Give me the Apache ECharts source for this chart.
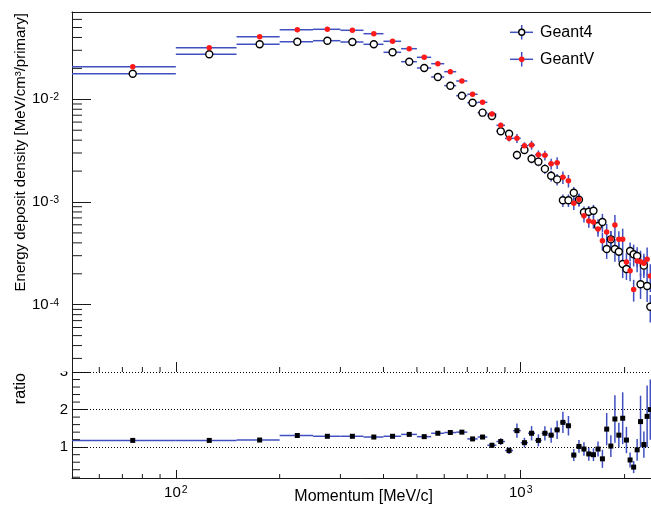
<!DOCTYPE html>
<html lang="en">
<head>
<meta charset="UTF-8">
<title>Energy deposit density</title>
<style>
  html, body { margin: 0; padding: 0; background: #fff; }
  #main { width: 651px; height: 506px; }
</style>
<script src="https://cdn.jsdelivr.net/npm/echarts@6/dist/echarts.min.js"></script>
</head>
<body>
<div id="main"></div>
<script>
// bin centres, MeV/c (bins are 50 MeV/c wide)
var centers = [75, 125, 175, 225, 275, 325, 375, 425, 475, 525, 575, 625, 675, 725, 775, 825,
  875, 925, 975, 1025, 1075, 1125, 1175, 1225, 1275, 1325, 1375, 1425, 1475, 1525, 1575, 1625,
  1675, 1725, 1775, 1825, 1875, 1925, 1975, 2025, 2075, 2125, 2175, 2225, 2275, 2325, 2375];
var binHalfWidth = 25;

// energy deposit density, MeV/cm3/primary
var geant4 = [0.01775, 0.02742, 0.03431, 0.03638, 0.03720, 0.03613, 0.03431, 0.02868, 0.02323, 0.02017,
  0.01649, 0.01357, 0.01084, 0.00927, 0.00741, 0.00688, 0.00488, 0.00462, 0.00287, 0.00321,
  0.00264, 0.00247, 0.00210, 0.00180, 0.00166, 0.00104, 0.00104, 0.00123, 0.00105, 0.000794,
  0.000804, 0.000823, 0.000584, 0.000639, 0.000349, 0.000433, 0.000349, 0.000328, 0.000249, 0.000223,
  0.000333, 0.000310, 0.000298, 0.000158, 0.000240, 0.000152, 0.0000956];
var geantV = [0.02077, 0.03181, 0.04069, 0.04761, 0.04804, 0.04697, 0.04352, 0.03671, 0.03110, 0.02564,
  0.02221, 0.01857, 0.01508, 0.01119, 0.00935, 0.00719, 0.00558, 0.00417, 0.00417, 0.00353,
  0.00359, 0.00289, 0.00285, 0.00236, 0.00241, 0.00174, 0.00161, 0.000971, 0.00106, 0.000735,
  0.000653, 0.000639, 0.000546, 0.000420, 0.000510, 0.000436, 0.000597, 0.000433, 0.000433, 0.000260,
  0.000214, 0.000141, 0.000266, 0.000262, 0.000253, 0.000277, 0.000190];
// relative errors (fraction of value)
var relErr = [0.01, 0.01, 0.01, 0.01, 0.01, 0.01, 0.01, 0.01, 0.01, 0.01,
  0.01, 0.02, 0.02, 0.03, 0.03, 0.05, 0.06, 0.07, 0.10, 0.08,
  0.10, 0.10, 0.11, 0.12, 0.13, 0.14, 0.14, 0.14, 0.14, 0.14,
  0.14, 0.14, 0.16, 0.20, 0.20, 0.20, 0.25, 0.20, 0.27, 0.22,
  0.21, 0.24, 0.22, 0.28, 0.24, 0.30, 0.30];

// GeantV / Geant4
var ratio = [1.18, 1.18, 1.19, 1.31, 1.29, 1.29, 1.27, 1.29, 1.34, 1.28,
  1.37, 1.39, 1.40, 1.22, 1.27, 1.05, 1.15, 0.91, 1.44, 1.12,
  1.37, 1.18, 1.37, 1.32, 1.46, 1.66, 1.57, 0.79, 1.02, 0.95,
  0.82, 0.80, 0.95, 0.69, 1.48, 1.03, 1.75, 1.32, 1.77, 1.19,
  0.66, 0.47, 0.93, 1.68, 1.07, 1.82, 2.00];
var ratioErr = [0.01, 0.01, 0.01, 0.01, 0.01, 0.01, 0.01, 0.015, 0.015, 0.02,
  0.02, 0.025, 0.03, 0.05, 0.05, 0.07, 0.09, 0.09, 0.19, 0.13,
  0.19, 0.16, 0.19, 0.20, 0.24, 0.28, 0.26, 0.16, 0.17, 0.18,
  0.18, 0.17, 0.20, 0.24, 0.43, 0.29, 0.63, 0.33, 0.69, 0.35,
  0.20, 0.16, 0.29, 0.69, 0.35, 0.82, 0.80];

// axis ranges and minor ticks
var xMin = 50, xMax = 2500;
var yTopMin = 2.2117e-5, yTopMax = 0.07079;
var ratioMin = 0.18, ratioMax = 3;
var xMinorTicks = [60, 70, 80, 90, 200, 300, 400, 500, 600, 700, 800, 900, 2000];
var yMinorTicks = [3e-5, 4e-5, 5e-5, 6e-5, 7e-5, 8e-5, 9e-5,
  2e-4, 3e-4, 4e-4, 5e-4, 6e-4, 7e-4, 8e-4, 9e-4,
  2e-3, 3e-3, 4e-3, 5e-3, 6e-3, 7e-3, 8e-3, 9e-3,
  2e-2, 3e-2, 4e-2, 5e-2, 6e-2, 7e-2];
var ratioMinorTicks = [0.2, 0.4, 0.6, 0.8, 1.2, 1.4, 1.6, 1.8, 2.2, 2.4, 2.6, 2.8];

var FONT = "'Liberation Sans', Arial, Helvetica, sans-serif";
var barColor = '#4050c0';
var axisColor = '#1a1a1a';

var chart = echarts.init(document.getElementById('main'), null, {renderer: 'canvas'});

// error bar data: [x, y, xlo, xhi, ylo, yhi]
function errData(vals, errFn) {
  return centers.map(function (c, i) {
    var e = errFn(i);
    return [c, vals[i], c - binHalfWidth, c + binHalfWidth, vals[i] - e, vals[i] + e];
  });
}

function errRender(params, api) {
  var x = api.value(0), y = api.value(1);
  var a = api.coord([api.value(2), y]), b = api.coord([api.value(3), y]);
  var lo = api.coord([x, api.value(4)]), hi = api.coord([x, api.value(5)]);
  var st = {stroke: barColor, lineWidth: 1.5};
  return {type: 'group', children: [
    {type: 'line', shape: {x1: a[0], y1: a[1], x2: b[0], y2: b[1]}, style: st},
    {type: 'line', shape: {x1: lo[0], y1: lo[1], x2: hi[0], y2: hi[1]}, style: st}
  ]};
}

// minor tick helpers (ROOT style 2..9 ticks)
function yTickSeries(xi, yi, vals, len) {
  return {
    type: 'custom', xAxisIndex: xi, yAxisIndex: yi, silent: true, z: 5,
    data: vals.map(function (v) { return [xMin, v]; }),
    renderItem: function (p, api) {
      var c = api.coord([api.value(0), api.value(1)]);
      return {type: 'line', shape: {x1: c[0], y1: c[1], x2: c[0] + len, y2: c[1]},
        style: {stroke: axisColor, lineWidth: 1}};
    }
  };
}
function xTickSeries(xi, yi, yVal, len) {
  return {
    type: 'custom', xAxisIndex: xi, yAxisIndex: yi, silent: true, z: 5,
    data: xMinorTicks.map(function (v) { return [v, yVal]; }),
    renderItem: function (p, api) {
      var c = api.coord([api.value(0), api.value(1)]);
      return {type: 'line', shape: {x1: c[0], y1: c[1], x2: c[0], y2: c[1] - len},
        style: {stroke: axisColor, lineWidth: 1}};
    }
  };
}

function powLabel(v) {
  var l = Math.log10(v), e = Math.round(l);
  if (Math.abs(l - e) > 1e-6) return '';
  return '{b|10}{s|' + e + '}';
}
var powRich = {
  b: {fontSize: 15, fontFamily: FONT, color: '#000', lineHeight: 15, verticalAlign: 'bottom'},
  s: {fontSize: 10.5, fontFamily: FONT, color: '#000', lineHeight: 11, verticalAlign: 'top', padding: [0, 0, 7, 1]}
};

var option = {
  animation: false,
  backgroundColor: '#fff',
  grid: [
    {left: 72, top: 12, width: 586, height: 360, containLabel: false, outerBoundsMode: 'none'},
    {left: 72, top: 372, width: 586, height: 106, containLabel: false, outerBoundsMode: 'none'}
  ],
  xAxis: [
    {type: 'log', gridIndex: 0, min: xMin, max: xMax, position: 'bottom', splitNumber: 2,
      axisLine: {show: false},
      axisTick: {show: true, inside: true, length: 10, lineStyle: {color: axisColor, width: 1}},
      axisLabel: {show: false}, splitLine: {show: false}},
    {type: 'log', gridIndex: 0, min: xMin, max: xMax, position: 'top',
      axisLine: {show: true, lineStyle: {color: axisColor, width: 1}},
      axisTick: {show: false}, axisLabel: {show: false}, splitLine: {show: false}},
    {type: 'log', gridIndex: 1, min: xMin, max: xMax, position: 'bottom', splitNumber: 2,
      axisLine: {show: true, onZero: false, lineStyle: {color: axisColor, width: 1}},
      axisTick: {show: true, inside: true, length: 8, lineStyle: {color: axisColor, width: 1}},
      axisLabel: {show: true, margin: 7, formatter: powLabel, rich: powRich},
      splitLine: {show: false}}
  ],
  yAxis: [
    {type: 'log', gridIndex: 0, min: yTopMin, max: yTopMax, splitNumber: 3,
      axisLine: {show: true, lineStyle: {color: axisColor, width: 1}},
      axisTick: {show: true, inside: true, length: 19, lineStyle: {color: axisColor, width: 1}},
      axisLabel: {show: true, margin: 13, formatter: powLabel, rich: powRich},
      splitLine: {show: false}},
    {type: 'value', gridIndex: 1, min: ratioMin, max: ratioMax, splitNumber: 3,
      axisLine: {show: true, onZero: false, lineStyle: {color: axisColor, width: 1}},
      axisTick: {show: true, inside: true, length: 15, lineStyle: {color: axisColor, width: 1}},
      axisLabel: {show: true, margin: 4, fontSize: 15, fontFamily: FONT, color: '#000',
        formatter: function (v) { return Math.abs(v - Math.round(v)) < 1e-6 ? String(Math.round(v)) : ''; }},
      splitLine: {show: false}}
  ],
  series: [
    {name: 'Geant4 err', type: 'custom', xAxisIndex: 0, yAxisIndex: 0, clip: true, z: 2,
      renderItem: errRender, encode: {x: [0, 2, 3], y: [1, 4, 5]},
      data: errData(geant4, function (i) { return geant4[i] * relErr[i]; })},
    {name: 'GeantV err', type: 'custom', xAxisIndex: 0, yAxisIndex: 0, clip: true, z: 2,
      renderItem: errRender, encode: {x: [0, 2, 3], y: [1, 4, 5]},
      data: errData(geantV, function (i) { return geantV[i] * relErr[i]; })},
    {name: 'Geant4', type: 'scatter', xAxisIndex: 0, yAxisIndex: 0, z: 3,
      symbol: 'circle', symbolSize: 7,
      itemStyle: {color: '#fff', borderColor: '#000', borderWidth: 1.4, opacity: 1},
      data: centers.map(function (c, i) { return [c, geant4[i]]; })},
    {name: 'GeantV', type: 'scatter', xAxisIndex: 0, yAxisIndex: 0, z: 4,
      symbol: 'circle', symbolSize: 5.5,
      itemStyle: {color: '#ff1a1a', opacity: 1},
      data: centers.map(function (c, i) { return [c, geantV[i]]; })},
    yTickSeries(0, 0, yMinorTicks, 10),
    xTickSeries(0, 0, yTopMin, 5),
    {name: 'ratio err', type: 'custom', xAxisIndex: 2, yAxisIndex: 1, clip: true, z: 2,
      renderItem: errRender, encode: {x: [0, 2, 3], y: [1, 4, 5]},
      data: errData(ratio, function (i) { return ratioErr[i]; })},
    {name: 'ratio', type: 'scatter', xAxisIndex: 2, yAxisIndex: 1, z: 4,
      symbol: 'rect', symbolSize: 5,
      itemStyle: {color: '#000', opacity: 1},
      data: centers.map(function (c, i) { return [c, ratio[i]]; }),
      markLine: {silent: true, symbol: ['none', 'none'], label: {show: false},
        lineStyle: {color: '#000', width: 1, type: [1, 2]},
        emphasis: {disabled: true},
        data: [{yAxis: 1}, {yAxis: 2}, {yAxis: 3}]}},
    yTickSeries(2, 1, ratioMinorTicks, 8),
    xTickSeries(2, 1, ratioMin, 4)
  ],
  graphic: [
    // hides the upper half of the "3" label, as the upper pad does
    {type: 'rect', z: 100, shape: {x: 40, y: 355, width: 30, height: 16.5}, style: {fill: '#fff'}},
    {type: 'text', x: 21, y: 13, rotation: Math.PI / 2, z: 100,
      style: {text: 'Energy deposit density [MeV/cm\u00b3/primary]', font: '15px ' + FONT,
        fill: '#000', align: 'right', verticalAlign: 'middle'}},
    {type: 'text', x: 21, y: 373, rotation: Math.PI / 2, z: 100,
      style: {text: 'ratio', font: '16px ' + FONT, fill: '#000', align: 'right', verticalAlign: 'middle'}},
    {type: 'text', x: 433, y: 497, z: 100,
      style: {text: 'Momentum [MeV/c]', font: '16px ' + FONT, fill: '#000', align: 'right', verticalAlign: 'middle'}},
    // legend
    {type: 'group', z: 100, children: [
      {type: 'line', shape: {x1: 510, y1: 32.3, x2: 533, y2: 32.3}, style: {stroke: barColor, lineWidth: 1.5}},
      {type: 'line', shape: {x1: 521.7, y1: 25, x2: 521.7, y2: 39.5}, style: {stroke: barColor, lineWidth: 1.5}},
      {type: 'circle', shape: {cx: 521.7, cy: 32.3, r: 3}, style: {fill: '#fff', stroke: '#000', lineWidth: 1.4}},
      {type: 'text', x: 540, y: 32.3, style: {text: 'Geant4', font: '16px ' + FONT, fill: '#000', verticalAlign: 'middle'}},
      {type: 'line', shape: {x1: 510, y1: 59.3, x2: 533, y2: 59.3}, style: {stroke: barColor, lineWidth: 1.5}},
      {type: 'line', shape: {x1: 521.7, y1: 52, x2: 521.7, y2: 66.5}, style: {stroke: barColor, lineWidth: 1.5}},
      {type: 'circle', shape: {cx: 521.7, cy: 59.3, r: 2.8}, style: {fill: '#ff1a1a'}},
      {type: 'text', x: 540, y: 59.3, style: {text: 'GeantV', font: '16px ' + FONT, fill: '#000', verticalAlign: 'middle'}}
    ]}
  ]
};

chart.setOption(option);
</script>
</body>
</html>
